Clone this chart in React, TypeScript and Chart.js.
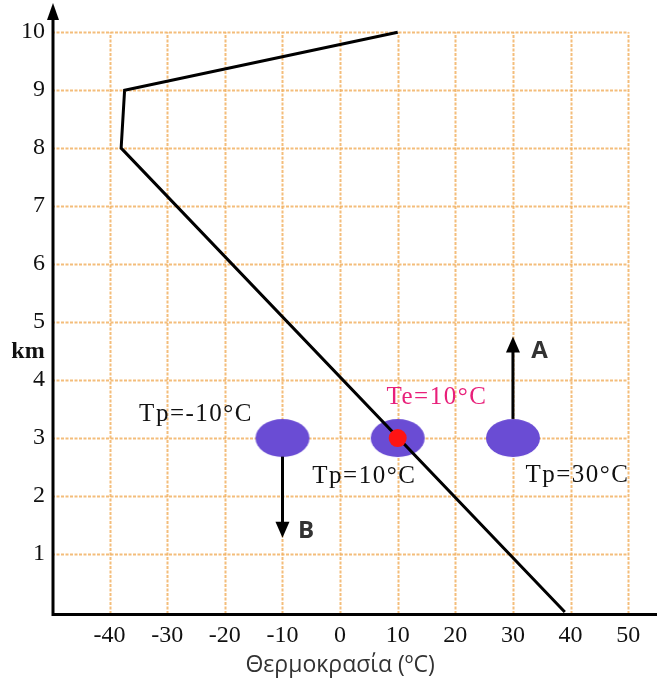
import React, { useEffect, useRef } from 'react';
import { Chart, registerables } from 'chart.js';
Chart.register(...registerables);

// Environmental temperature profile (°C) at altitude (km)
const profileAltKm = [0, 8, 9, 10];
const profileTempC = [39, -38, -37.4, 10];

// Air parcels
const parcelTempC = [-10, 10, 30];
const parcelAltKm = [3, 3, 3];
const parcelLabels = ['Tp=-10°C', 'Tp=10°C', 'Tp=30°C'];
const parcelLabelTempC = [-25.0, 4.2, 41.2];
const parcelLabelAltKm = [3.4, 2.33, 2.36];

// Environment point
const envTempC = [10];
const envAltKm = [3];
const envLabel = 'Te=10°C';
const envLabelTempC = [16.8];
const envLabelAltKm = [3.7];

// Arrows (A rises, B sinks)
const arrowNames = ['A', 'B'];
const arrowTempC = [30, -10];
const arrowFromKm = [3.33, 2.68];
const arrowToKm = [4.75, 1.28];
const arrowLabelTempC = [34.6, -5.9];
const arrowLabelAltKm = [4.5, 1.4];

const xTicks = [-40, -30, -20, -10, 0, 10, 20, 30, 40, 50];
const yTicks = [1, 2, 3, 4, 5, 6, 7, 8, 9, 10];
const xTitle = 'Θερμοκρασία (ºC)';
const yTitle = 'km';

const SERIF = '"Times New Roman", "Liberation Serif", Tinos, serif';

function makeEllipse(): HTMLCanvasElement {
  const c = document.createElement('canvas');
  c.width = 56;
  c.height = 40;
  const g = c.getContext('2d')!;
  g.fillStyle = '#6a4cd4';
  g.beginPath();
  g.ellipse(28, 20, 27, 19, 0, 0, Math.PI * 2);
  g.fill();
  return c;
}

const overlay = {
  id: 'overlay',
  beforeDatasetsDraw(chart: any) {
    const { ctx, scales } = chart;
    const x = scales.x, y = scales.y;
    ctx.save();
    ctx.strokeStyle = 'rgba(242,178,100,0.85)';
    ctx.lineWidth = 2;
    ctx.setLineDash([3, 1.5]);
    for (const t of xTicks) {
      const px = Math.round(x.getPixelForValue(t)) + 0.5;
      ctx.beginPath();
      ctx.moveTo(px, y.getPixelForValue(0) + 2);
      ctx.lineTo(px, y.getPixelForValue(10));
      ctx.stroke();
    }
    for (const t of yTicks) {
      const py = Math.round(y.getPixelForValue(t)) + 0.5;
      ctx.beginPath();
      ctx.moveTo(x.getPixelForValue(-50), py);
      ctx.lineTo(x.getPixelForValue(50), py);
      ctx.stroke();
    }
    ctx.restore();
  },
  afterDatasetsDraw(chart: any) {
    const { ctx, scales } = chart;
    const x = scales.x, y = scales.y;
    ctx.save();
    // axes
    ctx.strokeStyle = '#000';
    ctx.fillStyle = '#000';
    ctx.lineWidth = 3;
    const ax = x.getPixelForValue(-50) + 1;
    const ay = y.getPixelForValue(0) + 2.5;
    ctx.beginPath();
    ctx.moveTo(ax, ay + 1.5);
    ctx.lineTo(ax, 14);
    ctx.moveTo(ax - 1.5, ay);
    ctx.lineTo(x.getPixelForValue(55), ay);
    ctx.stroke();
    ctx.beginPath();
    ctx.moveTo(ax, 3);
    ctx.lineTo(ax - 6, 20);
    ctx.lineTo(ax + 6, 20);
    ctx.closePath();
    ctx.fill();

    // arrows
    ctx.lineWidth = 3;
    arrowNames.forEach((name, i) => {
      const px = x.getPixelForValue(arrowTempC[i]);
      const p0 = y.getPixelForValue(arrowFromKm[i]);
      const p1 = y.getPixelForValue(arrowToKm[i]);
      const dir = p1 < p0 ? -1 : 1;
      ctx.beginPath();
      ctx.moveTo(px, p0);
      ctx.lineTo(px, p1 - dir * 10);
      ctx.stroke();
      ctx.beginPath();
      ctx.moveTo(px, p1);
      ctx.lineTo(px - 7, p1 - dir * 16);
      ctx.lineTo(px + 7, p1 - dir * 16);
      ctx.closePath();
      ctx.fill();
      ctx.fillStyle = '#333';
      ctx.font = 'bold 24px "Open Sans"';
      ctx.textAlign = 'center';
      ctx.textBaseline = 'middle';
      ctx.fillText(name, x.getPixelForValue(arrowLabelTempC[i]), y.getPixelForValue(arrowLabelAltKm[i]));
      ctx.fillStyle = '#000';
    });

    // parcel labels
    ctx.font = '25px ' + SERIF;
    (ctx as any).letterSpacing = '1.5px';
    ctx.textAlign = 'center';
    ctx.textBaseline = 'middle';
    ctx.fillStyle = '#111';
    parcelLabels.forEach((s, i) => {
      ctx.fillText(s, x.getPixelForValue(parcelLabelTempC[i]), y.getPixelForValue(parcelLabelAltKm[i]));
    });
    ctx.fillStyle = '#e8207a';
    ctx.fillText(envLabel, x.getPixelForValue(envLabelTempC[0]), y.getPixelForValue(envLabelAltKm[0]));
    (ctx as any).letterSpacing = '0px';

    // y title
    ctx.fillStyle = '#111';
    ctx.font = 'bold 24px ' + SERIF;
    ctx.fillText(yTitle, 28, y.getPixelForValue(4.49));

    // x title
    ctx.fillStyle = '#333';
    ctx.font = '23px "Open Sans"';
    ctx.fillText(xTitle, x.getPixelForValue(0), 665);
    ctx.restore();
  },
};

export default function App() {
  const ref = useRef<HTMLCanvasElement>(null);
  useEffect(() => {
    const ellipse = makeEllipse();
    const chart = new Chart(ref.current!, {
      type: 'scatter',
      data: {
        datasets: [
          {
            data: parcelTempC.map((t, i) => ({ x: t, y: parcelAltKm[i] })),
            pointStyle: ellipse as any,
            order: 3,
          },
          {
            data: profileTempC.map((t, i) => ({ x: t, y: profileAltKm[i] })),
            showLine: true,
            borderColor: '#000',
            borderWidth: 3,
            pointRadius: 0,
            clip: false as any,
            order: 2,
          },
          {
            data: envTempC.map((t, i) => ({ x: t, y: envAltKm[i] })),
            pointRadius: 9,
            backgroundColor: '#ff1414',
            borderWidth: 0,
            order: 1,
          },
        ],
      },
      options: {
        responsive: false,
        animation: false,
        devicePixelRatio: 1,
        layout: { padding: { left: 0, right: 6, top: 3, bottom: 0 } },
        plugins: { legend: { display: false }, tooltip: { enabled: false } },
        scales: {
          x: {
            type: 'linear',
            min: -50,
            max: 55,
            afterBuildTicks: (s: any) => { s.ticks = xTicks.map((v) => ({ value: v })); },
            afterFit: (s: any) => { s.height = 86; s.paddingLeft = 0; s.paddingRight = 0; },
            grid: { display: false, drawTicks: false },
            border: { display: false },
            ticks: { font: { family: SERIF, size: 24 }, color: '#111', padding: 9, maxRotation: 0 },
          },
          y: {
            type: 'linear',
            min: 0,
            max: 10.4,
            afterBuildTicks: (s: any) => { s.ticks = yTicks.map((v) => ({ value: v })); },
            afterFit: (s: any) => { s.width = 52; s.paddingTop = 0; s.paddingBottom = 0; },
            grid: { display: false, drawTicks: false },
            border: { display: false },
            ticks: { font: { family: SERIF, size: 24 }, color: '#111', padding: 7 },
          },
        },
      },
      plugins: [overlay],
    });
    return () => chart.destroy();
  }, []);
  return (
    <div style={{ position: 'absolute', left: 0, top: 0, width: 666, height: 698, background: '#fff' }}>
      <canvas ref={ref} width={666} height={698} />
    </div>
  );
}
